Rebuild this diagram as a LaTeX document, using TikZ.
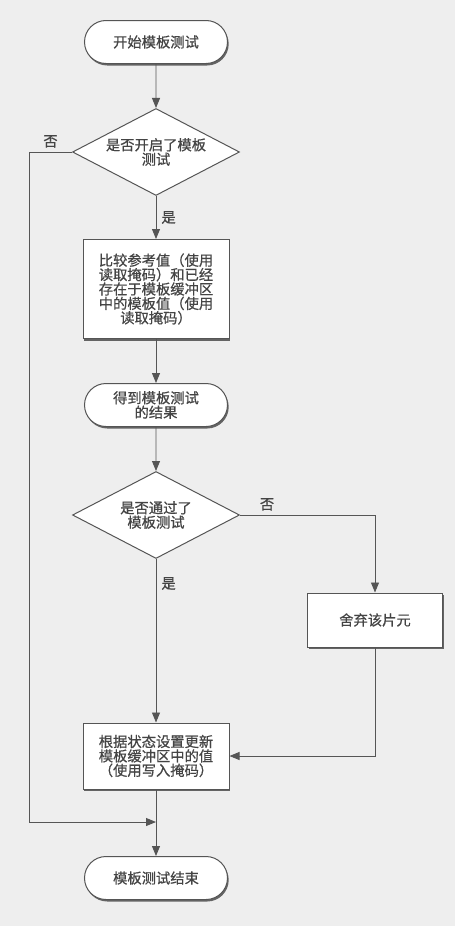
\documentclass[tikz,border=0pt]{standalone}
\usepackage{fontspec}
\newfontfamily\cjk[FakeBold=0.6]{Noto Sans CJK SC}
\usetikzlibrary{arrows.meta,shapes.geometric,shapes.misc,shadows}
\definecolor{linegray}{HTML}{555555}
\definecolor{txtgray}{HTML}{444444}
\definecolor{paper}{HTML}{EEEEEE}

\begin{document}
\begin{tikzpicture}[x=1pt, y=-1pt,
	every node/.style={font=\cjk\fontsize{14.3}{14.4}\selectfont, text=txtgray},
	>={Triangle[length=10pt, width=8pt]},
	boxshadow/.style={drop shadow={shadow xshift=1.2pt, shadow yshift=-2pt, fill=black!70, opacity=0.85}},
	terminal/.style={rounded rectangle, draw=linegray, line width=1pt, fill=white, minimum width=147pt, minimum height=43pt, inner sep=2pt, align=center, boxshadow},
	proc/.style={rectangle, draw=linegray, line width=1pt, fill=white, minimum width=146pt, inner sep=2pt, align=center, boxshadow},
	dec/.style={diamond, draw=linegray, line width=1pt, fill=white, aspect=1.92, inner sep=0pt, minimum width=167pt, minimum height=87pt, align=center},
	link/.style={->, draw=linegray, line width=0.9pt},
	lab/.style={inner sep=1pt}]
	\fill[paper] (0,0) rectangle (455,926);
	\useasboundingbox (0,0) rectangle (455,926);
	% main column
	\node[terminal] (start) at (156,42) {开始模板测试};
	\node[dec] (dec1) at (156,152) {是否开启了模板\\测试};
	\node[proc, minimum height=99pt] (cmp) at (156,289) {比较参考值（使用\\读取掩码）和已经\\存在于模板缓冲区\\中的模板值（使用\\读取掩码）};
	\node[terminal] (res) at (156,405) {得到模板测试\\的结果};
	\node[dec] (dec2) at (156,515) {是否通过了\\模板测试};
	\node[proc, minimum width=135pt, minimum height=54pt] (disc) at (375,620) {舍弃该片元};
	\node[proc, minimum height=66pt] (upd) at (156,756) {根据状态设置更新\\模板缓冲区中的值\\（使用写入掩码）};
	\node[terminal] (stop) at (156,878) {模板测试结束};
	\coordinate (merge) at (156,822);
	\coordinate (lft) at (29,822);
	% connectors
	\draw[link] (start) -- (dec1);
	\draw[link] (dec1) -- node[lab, right=4pt] {是} (cmp);
	\draw[link] (cmp) -- (res);
	\draw[link] (res) -- (dec2);
	\draw[link] (dec2.east) -| node[lab, pos=0.1, above=3pt] {否} (disc);
	\draw[link] (dec2) -- node[lab, pos=0.15, right=4pt] {是} (upd);
	\draw[link] (disc) |- (upd);
	\draw[link] (upd) -- (stop);
	\draw[link] (dec1.west) -| node[lab, pos=0.25, above=3pt] {否} (lft) -- (merge);
\end{tikzpicture}
\end{document}
